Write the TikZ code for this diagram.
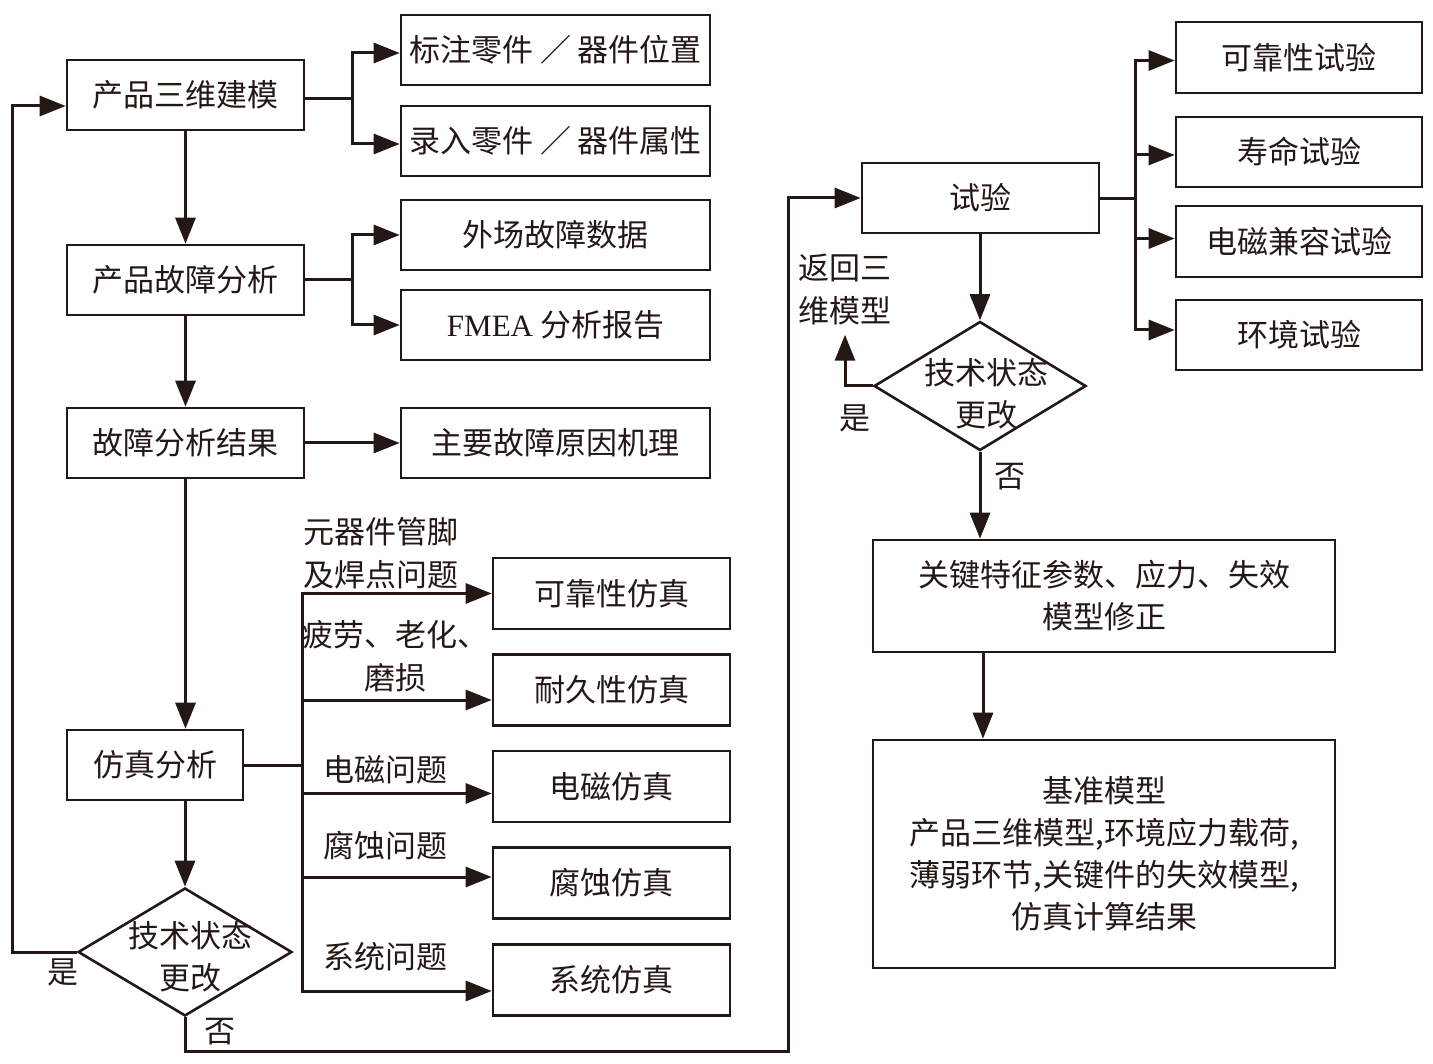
\documentclass[tikz,border=0pt]{standalone}
\usepackage{fontspec}
\setmainfont{Noto Sans CJK SC}
\newfontfamily\latin{Liberation Serif}
\usetikzlibrary{arrows.meta,shapes.geometric,calc}
\definecolor{ink}{RGB}{35,24,21}
\tikzset{
  box/.style={draw=ink, line width=2.6pt, minimum height=70pt, inner sep=0pt, text=ink,
    font=\fontsize{31}{42}\selectfont, align=center},
  dia/.style={draw=ink, line width=2.6pt, shape=diamond, inner sep=0pt},
  lbl/.style={text=ink, inner sep=0pt, font=\fontsize{31}{43}\selectfont},
  ln/.style={draw=ink, line width=3pt},
  arr/.style={draw=ink, line width=3pt, -{Triangle[length=26pt,width=20pt]}},
}
\begin{document}
\begin{tikzpicture}[x=1pt,y=-1pt]
\useasboundingbox (0,0) rectangle (1433,1064);
% left column
\node[box, minimum width=237pt] (A) at (185.5,95) {产品三维建模};
\node[box, minimum width=309pt] (B1) at (555.5,50) {标注零件 ／ 器件位置};
\node[box, minimum width=309pt] (B2) at (555.5,141) {录入零件 ／ 器件属性};
\node[box, minimum width=237pt] (C) at (185.5,280) {产品故障分析};
\node[box, minimum width=309pt] (C1) at (555.5,235) {外场故障数据};
\node[box, minimum width=309pt] (C2) at (555.5,325) {{\latin FMEA} 分析报告};
\node[box, minimum width=237pt] (D) at (185.5,443) {故障分析结果};
\node[box, minimum width=309pt] (D1) at (555.5,443) {主要故障原因机理};
\node[box, minimum width=176pt] (E) at (155,765) {仿真分析};
\node[box, minimum width=237pt, minimum height=71pt] (S1) at (611.5,593.5) {可靠性仿真};
\node[box, minimum width=237pt, minimum height=71pt] (S2) at (611.5,690) {耐久性仿真};
\node[box, minimum width=237pt, minimum height=71pt] (S3) at (611.5,786.5) {电磁仿真};
\node[box, minimum width=237pt, minimum height=71pt] (S4) at (611.5,883) {腐蚀仿真};
\node[box, minimum width=237pt, minimum height=71pt] (S5) at (611.5,980) {系统仿真};
\node[dia, minimum width=214pt, minimum height=128pt] (K1) at (185,952) {};
\node[lbl, align=center, font=\fontsize{31}{42}\selectfont] (K1t) at (190,957) {技术状态\\更改};
% labels on branches
\node[lbl, align=left] (L1) at (381,553) {元器件管脚\\及焊点问题};
\node[lbl, align=center] (L2) at (395,656) {疲劳、老化、\\磨损};
\node[lbl] (L3) at (385,770) {电磁问题};
\node[lbl] (L4) at (385,846) {腐蚀问题};
\node[lbl] (L5) at (385,957) {系统问题};
\node[lbl] (Y1) at (63,972) {是};
\node[lbl] (N1) at (220,1032) {否};
% right column
\node[box, minimum width=237pt] (T) at (980.5,198) {试验};
\node[box, minimum width=246pt, minimum height=71pt] (T1) at (1299,57.5) {可靠性试验};
\node[box, minimum width=246pt] (T2) at (1299,152) {寿命试验};
\node[box, minimum width=246pt, minimum height=71pt] (T3) at (1299,241.5) {电磁兼容试验};
\node[box, minimum width=246pt] (T4) at (1299,335) {环境试验};
\node[dia, minimum width=212pt, minimum height=129pt] (K2) at (980,386) {};
\node[lbl, align=center, font=\fontsize{31}{42}\selectfont] (K2t) at (986,394) {技术状态\\更改};
\node[lbl, align=left, inner sep=0pt] (R) at (845,289) {返回三\\维模型};
\node[lbl] (Y2) at (855,418) {是};
\node[lbl] (N2) at (1010,477) {否};
\node[box, minimum width=462pt, minimum height=112pt] (F) at (1104,596) {关键特征参数、应力、失效\\模型修正};
\node[box, minimum width=462pt, minimum height=228pt] (G) at (1104,854) {基准模型\\产品三维模型,环境应力载荷,\\薄弱环节,关键件的失效模型,\\仿真计算结果};
% junction coordinates
\coordinate (jA) at (352,99);
\coordinate (jC) at (352,280);
\coordinate (jE) at (302,765);
\coordinate (jT) at (1135,199);
\coordinate (r1) at (12,952);
\coordinate (b2) at (788,1051);
% connectors, left column
\draw[ln] (A.east |- jA) -- (jA);
\draw[arr] (jA) |- ([yshift=-3pt]B1.west);
\draw[arr] (jA) |- ([yshift=-3pt]B2.west);
\draw[arr] (A) -- (C);
\draw[ln] (C.east) -- (jC);
\draw[arr] (jC) |- (C1.west);
\draw[arr] (jC) |- (C2.west);
\draw[arr] (C) -- (D);
\draw[arr] (D) -- (D1);
\draw[arr] (D.south) -- (D.south |- E.north);
\draw[ln] (E.east) -- (jE);
\draw[arr] (jE) |- (S1.west);
\draw[arr] (jE) |- ([yshift=-10pt]S2.west);
\draw[arr] (jE) |- ([yshift=-7pt]S3.west);
\draw[arr] (jE) |- ([yshift=6pt]S4.west);
\draw[arr] (jE) |- ([yshift=-11pt]S5.west);
\draw[arr] (E.south -| K1.north) -- (K1.north);
\draw[arr] (K1.west) -- (r1) |- ([yshift=-11pt]A.west);
\draw[arr] (K1.south) |- (b2) |- (T.west);
% connectors, right column
\draw[ln] (T.east |- jT) -- (jT);
\draw[arr] (jT) |- ([yshift=-3pt]T1.west);
\draw[arr] (jT) |- ([yshift=-3pt]T2.west);
\draw[arr] (jT) |- ([yshift=3pt]T3.west);
\draw[arr] (jT) |- ([yshift=5pt]T4.west);
\draw[arr] (T.south -| K2.north) -- (K2.north);
\draw[arr] (K2.west) -| ([yshift=-10pt]R.south);
\draw[arr] (K2.south) -- (K2.south |- F.north);
\draw[arr] (F.south -| 983,0) -- (G.north -| 983,0);
\end{tikzpicture}
\end{document}
